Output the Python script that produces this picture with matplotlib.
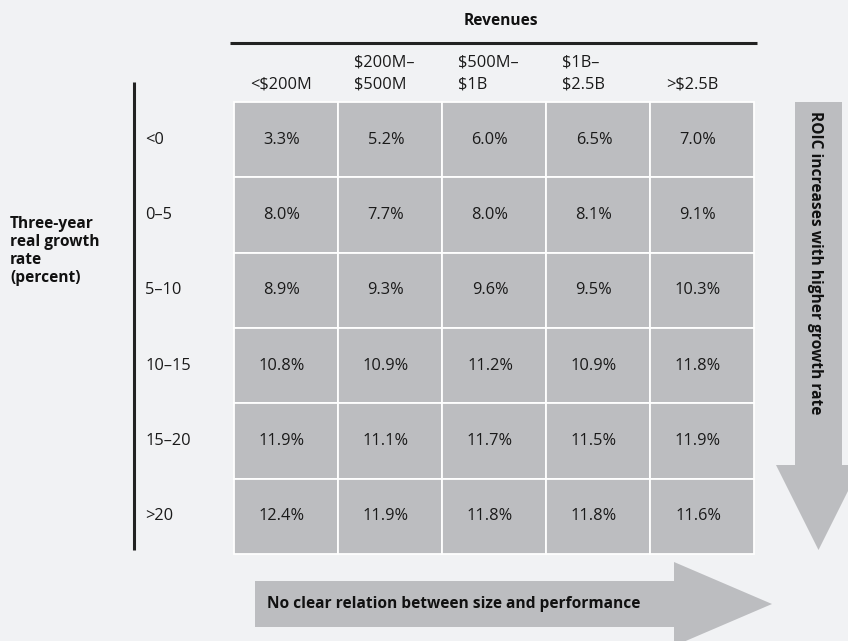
import numpy as np
import matplotlib.pyplot as plt
from matplotlib.patches import Rectangle, FancyArrow

# Data
revenue_bins = ['<$200M', '$200M–\n$500M', '$500M–\n$1B', '$1B–\n$2.5B', '>$2.5B']
growth_bins = ['<0', '0–5', '5–10', '10–15', '15–20', '>20']
roic = [
    [3.3, 5.2, 6.0, 6.5, 7.0],
    [8.0, 7.7, 8.0, 8.1, 9.1],
    [8.9, 9.3, 9.6, 9.5, 10.3],
    [10.8, 10.9, 11.2, 10.9, 11.8],
    [11.9, 11.1, 11.7, 11.5, 11.9],
    [12.4, 11.9, 11.8, 11.8, 11.6],
]

# Styling
BG = '#f1f2f4'
CELL = '#bcbdc0'
FS = 11.8   # regular text
FB = 11.2   # bold text
plt.rcParams['font.family'] = ['Open Sans', 'DejaVu Sans']

fig = plt.figure(figsize=(8.48, 6.41), dpi=100, facecolor=BG)
ax = fig.add_axes([0, 0, 1, 1])
ax.set_xlim(0, 848)
ax.set_ylim(641, 0)
ax.axis('off')
ax.set_facecolor(BG)

# grid layout (pixels)
x0, y0 = 234, 102
cw, rh = 104, 75.3

for i, row in enumerate(roic):
    for j, v in enumerate(row):
        ax.add_patch(Rectangle((x0 + j * cw, y0 + i * rh), cw, rh,
                               facecolor=CELL, edgecolor='white', lw=1.3))
        ax.text(x0 + j * cw + cw / 2 - 4, y0 + i * rh + rh / 2, f'{v:.1f}%',
                ha='center', va='center', fontsize=FS, color='#1a1a1a')

# column headers - bottom line sits on a common baseline
for j, lab in enumerate(revenue_bins):
    lines = lab.split('\n')
    for k, ln in enumerate(reversed(lines)):
        ax.text(x0 + j * cw + 16, 89 - k * 22, ln, ha='left', va='baseline',
                fontsize=FS, color='#1a1a1a')

# row labels
for i, lab in enumerate(growth_bins):
    ax.text(145, y0 + i * rh + rh / 2, lab, ha='left', va='center',
            fontsize=FS, color='#1a1a1a')

# top header rule + title
ax.plot([230, 757], [43, 43], color='#222222', lw=2.2, solid_capstyle='butt')
ax.text(501, 21, 'Revenues', ha='center', va='center', fontsize=FB,
        fontweight='bold', color='#111111')

# left vertical rule + axis title
ax.plot([134, 134], [82, 550], color='#222222', lw=2.2, solid_capstyle='butt')
ax.text(10, 251, 'Three-year\nreal growth\nrate\n(percent)', ha='left', va='center',
        fontsize=FB, fontweight='bold', color='#111111', linespacing=1.16)

# right down arrow
ax.add_patch(FancyArrow(818.5, 102, 0, 448, width=47, head_width=85,
                        head_length=85, length_includes_head=True,
                        color=CELL, lw=0))
ax.text(815, 111, 'ROIC increases with higher growth rate', rotation=-90,
        ha='center', va='top', fontsize=FB, fontweight='bold', color='#111111')

# bottom right arrow
ax.add_patch(FancyArrow(255, 604, 517, 0, width=46, head_width=84,
                        head_length=98, length_includes_head=True,
                        color=CELL, lw=0))
ax.text(267, 604, 'No clear relation between size and performance',
        ha='left', va='center', fontsize=FB, fontweight='bold', color='#111111')

fig.savefig('out.png', dpi=100, facecolor=BG)
